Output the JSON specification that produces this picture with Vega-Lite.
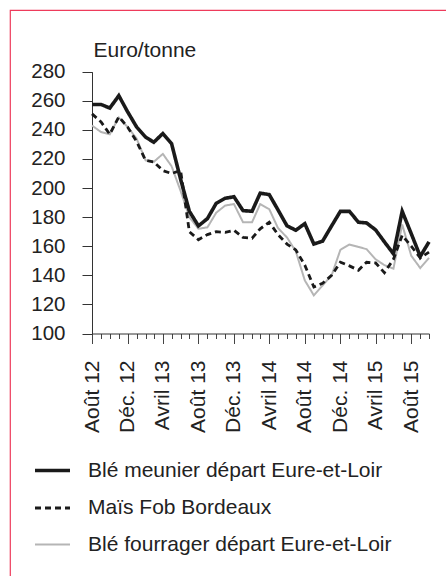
{
  "$schema": "https://vega.github.io/schema/vega-lite/v6.json",
  "width": 438,
  "height": 568,
  "autosize": {"type": "none"},
  "padding": {"left": 10, "top": 10, "right": -2, "bottom": -2},
  "background": "white",
  "config": {
    "view": {"stroke": "#ee3b5b", "strokeWidth": 1.2},
    "font": "Liberation Sans",
    "axis": {
      "labelFont": "Liberation Sans",
      "labelColor": "#222222",
      "domainColor": "#333333",
      "tickColor": "#333333",
      "grid": false,
      "titleFont": "Liberation Sans"
    }
  },
  "data": {
    "values": [
      {"mois": "2012-08-01", "meunier": 257.5, "mais": 251, "fourrager": 243},
      {"mois": "2012-09-01", "meunier": 257.5, "mais": 245.5, "fourrager": 238.5},
      {"mois": "2012-10-01", "meunier": 255, "mais": 237, "fourrager": 237},
      {"mois": "2012-11-01", "meunier": 263.5, "mais": 249, "fourrager": 248.5},
      {"mois": "2012-12-01", "meunier": 252.5, "mais": 242, "fourrager": 242},
      {"mois": "2013-01-01", "meunier": 242, "mais": 232, "fourrager": 234},
      {"mois": "2013-02-01", "meunier": 235, "mais": 219, "fourrager": 219},
      {"mois": "2013-03-01", "meunier": 231.5, "mais": 218, "fourrager": 218},
      {"mois": "2013-04-01", "meunier": 237.5, "mais": 212, "fourrager": 223.5},
      {"mois": "2013-05-01", "meunier": 230.5, "mais": 210, "fourrager": 215},
      {"mois": "2013-06-01", "meunier": 206, "mais": 212, "fourrager": 198},
      {"mois": "2013-07-01", "meunier": 184, "mais": 170, "fourrager": 180},
      {"mois": "2013-08-01", "meunier": 174, "mais": 164.5, "fourrager": 172},
      {"mois": "2013-09-01", "meunier": 179, "mais": 168, "fourrager": 173},
      {"mois": "2013-10-01", "meunier": 189.5, "mais": 170, "fourrager": 183},
      {"mois": "2013-11-01", "meunier": 193, "mais": 169.5, "fourrager": 188},
      {"mois": "2013-12-01", "meunier": 194, "mais": 171, "fourrager": 189},
      {"mois": "2014-01-01", "meunier": 184.5, "mais": 166, "fourrager": 176.5},
      {"mois": "2014-02-01", "meunier": 184, "mais": 165.5, "fourrager": 176.5},
      {"mois": "2014-03-01", "meunier": 196.5, "mais": 172, "fourrager": 189},
      {"mois": "2014-04-01", "meunier": 195.5, "mais": 176.5, "fourrager": 185.5},
      {"mois": "2014-05-01", "meunier": 185, "mais": 168, "fourrager": 172.5},
      {"mois": "2014-06-01", "meunier": 174, "mais": 161.5, "fourrager": 166},
      {"mois": "2014-07-01", "meunier": 171, "mais": 157.5, "fourrager": 156.5},
      {"mois": "2014-08-01", "meunier": 175.5, "mais": 147, "fourrager": 136.5},
      {"mois": "2014-09-01", "meunier": 161.5, "mais": 132, "fourrager": 126.2},
      {"mois": "2014-10-01", "meunier": 163.5, "mais": 134.5, "fourrager": 133},
      {"mois": "2014-11-01", "meunier": 174, "mais": 140, "fourrager": 140},
      {"mois": "2014-12-01", "meunier": 184, "mais": 149, "fourrager": 157.5},
      {"mois": "2015-01-01", "meunier": 184, "mais": 146.5, "fourrager": 161.2},
      {"mois": "2015-02-01", "meunier": 176.5, "mais": 143.5, "fourrager": 159.5},
      {"mois": "2015-03-01", "meunier": 176, "mais": 149, "fourrager": 158},
      {"mois": "2015-04-01", "meunier": 171.2, "mais": 148.5, "fourrager": 151},
      {"mois": "2015-05-01", "meunier": 163, "mais": 141.8, "fourrager": 147},
      {"mois": "2015-06-01", "meunier": 154.8, "mais": 151, "fourrager": 144.6},
      {"mois": "2015-07-01", "meunier": 184, "mais": 167.5, "fourrager": 175},
      {"mois": "2015-08-01", "meunier": 168.7, "mais": 160, "fourrager": 153.5},
      {"mois": "2015-09-01", "meunier": 153, "mais": 152, "fourrager": 145},
      {"mois": "2015-10-01", "meunier": 163, "mais": 156, "fourrager": 152}
    ]
  },
  "transform": [{"fold": ["fourrager", "mais", "meunier"], "as": ["serie", "prix"]}],
  "mark": {"type": "line", "strokeJoin": "miter"},
  "encoding": {
    "x": {
      "field": "mois",
      "type": "temporal",
      "scale": {"type": "utc", "nice": false, "range": [82, 419]},
      "axis": {
        "orient": "bottom",
        "offset": -244.5,
        "title": null,
        "tickCount": {"interval": "month", "step": 1},
        "labelExpr": "utcmonth(datum.value) == 7 ? 'Août ' + utcFormat(datum.value, '%y') : utcmonth(datum.value) == 11 ? 'Déc. ' + utcFormat(datum.value, '%y') : utcmonth(datum.value) == 3 ? 'Avril ' + utcFormat(datum.value, '%y') : ''",
        "labelAngle": -90,
        "labelOverlap": false,
        "labelFlush": false,
        "labelBound": false,
        "labelFontSize": 21,
        "labelPadding": 16.5,
        "tickSize": {"condition": {"test": "utcmonth(datum.value) % 4 == 3", "value": 10}, "value": 5},
        "tickColor": "#444444"
      }
    },
    "y": {
      "field": "prix",
      "type": "quantitative",
      "scale": {"domain": [100, 280], "range": [323.5, 61.7], "nice": false, "zero": false},
      "axis": {
        "orient": "left",
        "offset": -82,
        "values": [100, 120, 140, 160, 180, 200, 220, 240, 260, 280],
        "tickSize": 10,
        "labelPadding": 17,
        "labelFontSize": 20.5,
        "title": "Euro/tonne",
        "titleAngle": 0,
        "titleAlign": "left",
        "titleBaseline": "alphabetic",
        "titleX": 1,
        "titleY": 46,
        "titleFontSize": 21,
        "titleFontWeight": "normal",
        "titleColor": "#222222"
      }
    },
    "color": {
      "field": "serie",
      "type": "nominal",
      "scale": {"domain": ["meunier", "mais", "fourrager"], "range": ["#1a1a1a", "#1a1a1a", "#b5b5b5"]},
      "legend": {
        "orient": "none",
        "legendX": 23,
        "legendY": 441,
        "title": null,
        "padding": 0,
        "symbolType": "stroke",
        "symbolSize": 1225,
        "labelFont": "Liberation Sans",
        "labelFontSize": 21,
        "labelColor": "#222222",
        "labelOffset": 16,
        "labelLimit": 400,
        "rowPadding": 8,
        "labelExpr": "datum.value == 'meunier' ? 'Blé meunier départ Eure-et-Loir' : datum.value == 'mais' ? 'Maïs Fob Bordeaux' : 'Blé fourrager départ Eure-et-Loir'"
      }
    },
    "strokeDash": {
      "field": "serie",
      "type": "nominal",
      "scale": {"domain": ["meunier", "mais", "fourrager"], "range": [[1, 0], [6, 4], [1, 0]]}
    },
    "strokeWidth": {
      "field": "serie",
      "type": "nominal",
      "scale": {"domain": ["meunier", "mais", "fourrager"], "range": [3.6, 2, 2.6]}
    }
  }
}
